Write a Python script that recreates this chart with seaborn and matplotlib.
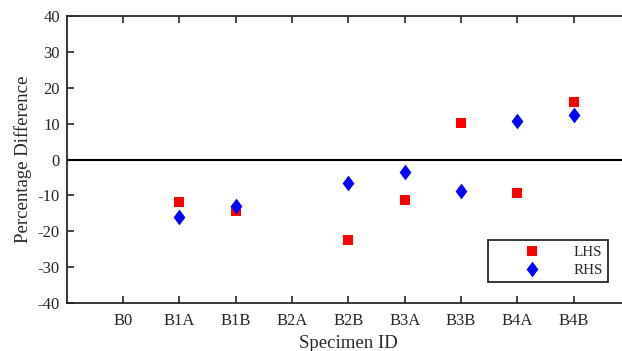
import matplotlib
matplotlib.use("Agg")
import matplotlib.pyplot as plt
from matplotlib.lines import Line2D
import seaborn as sns
import numpy as np
import pandas as pd

categories = ["B0", "B1A", "B1B", "B2A", "B2B", "B3A", "B3B", "B4A", "B4B"]
lhs = [np.nan, -11.8, -14.2, np.nan, -22.5, -11.3, 10.1, -9.4, 16.0]
rhs = [np.nan, -15.9, -13.0, np.nan, -6.5, -3.4, -8.9, 10.6, 12.5]
yticks = [-40, -30, -20, -10, 0, 10, 20, 30, 40]

sns.set_theme(style="white")
plt.rcParams["font.family"] = ["Liberation Serif", "DejaVu Serif"]
plt.rcParams["axes.unicode_minus"] = False

dark = "#262626"
fig = plt.figure(figsize=(6.22, 3.51), dpi=100)
ax = fig.add_axes([66.7 / 622, (351 - 303.3) / 351, 563.3 / 622, 287.6 / 351])

df = pd.DataFrame({"id": categories, "LHS": lhs, "RHS": rhs})
diamond = [(0, 1), (0.75, 0), (0, -1), (-0.75, 0)]

sns.stripplot(data=df, x="id", y="LHS", order=categories, jitter=False,
              marker="s", size=7.2, color="#FF0000", linewidth=0, ax=ax, zorder=3)
sns.stripplot(data=df, x="id", y="RHS", order=categories, jitter=False,
              marker=diamond, size=11.3, color="#0000FF", linewidth=0, ax=ax, zorder=4)

ax.axhline(0, color="black", lw=1.5, zorder=2)
ax.set_xlim(-1, 9)
ax.set_ylim(-40, 40)
ax.set_yticks(yticks)
ax.set_yticklabels([str(v) for v in yticks])

for s in ax.spines.values():
    s.set_visible(True)
    s.set_color(dark)
    s.set_linewidth(1.3)
ax.tick_params(axis="both", direction="in", length=5, width=1.2, color=dark,
               labelsize=12, labelcolor=dark, top=True, right=True, left=True, bottom=True)
ax.tick_params(axis="x", pad=7)
ax.tick_params(axis="y", pad=5)

ax.set_xlabel("Specimen ID", fontsize=13.5, color=dark, labelpad=4.5)
ax.set_ylabel("Percentage Difference", fontsize=13.5, color=dark, labelpad=4)

handles = [
    Line2D([], [], ls="none", marker="s", markersize=7.2, color="#FF0000", markeredgewidth=0),
    Line2D([], [], ls="none", marker=diamond, markersize=11.3, color="#0000FF", markeredgewidth=0),
]
leg = ax.legend(handles, ["LHS", "RHS"], loc="lower right",
                bbox_to_anchor=(608 / 622, 1 - 282 / 351), bbox_transform=fig.transFigure,
                borderaxespad=0, fancybox=False, framealpha=1, edgecolor=dark,
                fontsize=10.8, handlelength=5.2, handletextpad=0.15, labelspacing=0.3,
                borderpad=0.35)
leg.get_frame().set_linewidth(1.3)
for t in leg.get_texts():
    t.set_color(dark)

fig.savefig("out.png", dpi=100)
